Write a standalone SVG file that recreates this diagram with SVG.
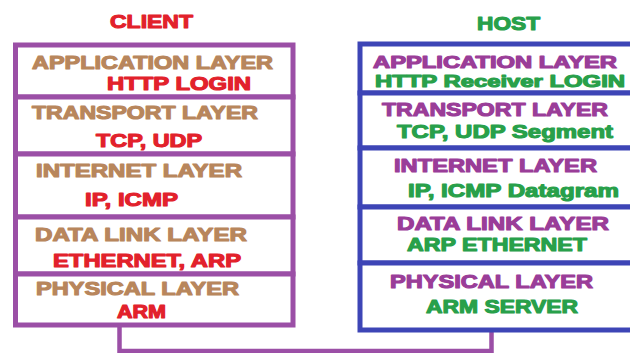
<svg xmlns="http://www.w3.org/2000/svg" width="630" height="353" viewBox="0 0 630 353">
<style>
text{font-family:"Liberation Sans",Arial,sans-serif;font-weight:bold;font-size:18px;stroke-width:1.1px;stroke-linejoin:round}
.title{font-size:19px}
.sm{font-size:16px}
.cbox{fill:#fff;stroke:#9b4fa6;stroke-width:5}
.hbox{fill:#fff;stroke:#3d45b6;stroke-width:5}
.cl{fill:#b8865c;stroke:#b8865c}
.cp{fill:#e2212b;stroke:#e2212b}
.hl{fill:#9a3d98;stroke:#9a3d98}
.hp{fill:#28a04a;stroke:#28a04a}
.conn{fill:none;stroke:#9b4fa6;stroke-width:4.5}
</style>
<rect width="630" height="353" fill="#fff"/>
<g id="connectors">
<polyline class="conn" points="119.5,325 119.5,351 491.5,351 491.5,330"/>
</g>
<g id="client-title"><text class="title cp" x="110" y="28" textLength="83" lengthAdjust="spacingAndGlyphs">CLIENT</text></g>
<g id="host-title"><text class="title hp" x="477" y="30" textLength="63" lengthAdjust="spacingAndGlyphs">HOST</text></g>

<g id="client-application">
<rect class="cbox" x="15.5" y="45" width="277.5" height="52"/>
<text class="cl" x="32" y="69" textLength="241" lengthAdjust="spacingAndGlyphs">APPLICATION LAYER</text>
<text class="cp" x="107" y="90" textLength="144" lengthAdjust="spacingAndGlyphs">HTTP  LOGIN</text>
</g>
<g id="client-transport">
<rect class="cbox" x="15.5" y="97" width="277.5" height="57"/>
<text class="cl" x="32" y="119" textLength="226" lengthAdjust="spacingAndGlyphs">TRANSPORT LAYER</text>
<text class="cp" x="96" y="147" textLength="106" lengthAdjust="spacingAndGlyphs">TCP, UDP</text>
</g>
<g id="client-internet">
<rect class="cbox" x="15.5" y="154" width="277.5" height="63"/>
<text class="cl" x="36" y="177" textLength="206" lengthAdjust="spacingAndGlyphs">INTERNET LAYER</text>
<text class="cp" x="85" y="206" textLength="93" lengthAdjust="spacingAndGlyphs">IP, ICMP</text>
</g>
<g id="client-datalink">
<rect class="cbox" x="15.5" y="217" width="277.5" height="57"/>
<text class="cl" x="35" y="241" textLength="212" lengthAdjust="spacingAndGlyphs">DATA LINK LAYER</text>
<text class="cp" x="53" y="267" textLength="188" lengthAdjust="spacingAndGlyphs">ETHERNET, ARP</text>
</g>
<g id="client-physical">
<rect class="cbox" x="15.5" y="274" width="277.5" height="51"/>
<text class="cl" x="36" y="295" textLength="203" lengthAdjust="spacingAndGlyphs">PHYSICAL LAYER</text>
<text class="cp" x="117" y="318" textLength="49" lengthAdjust="spacingAndGlyphs">ARM</text>
</g>

<g id="host-application">
<rect class="hbox" x="360" y="44" width="290" height="49"/>
<text class="hl sm" x="373" y="68" textLength="244" lengthAdjust="spacingAndGlyphs">APPLICATION LAYER</text>
<text class="hp sm" x="375" y="86.5" textLength="250" lengthAdjust="spacingAndGlyphs">HTTP Receiver LOGIN</text>
</g>
<g id="host-transport">
<rect class="hbox" x="360" y="93" width="290" height="55"/>
<text class="hl" x="382" y="116" textLength="226" lengthAdjust="spacingAndGlyphs">TRANSPORT LAYER</text>
<text class="hp" x="397" y="138" textLength="216" lengthAdjust="spacingAndGlyphs">TCP, UDP Segment</text>
</g>
<g id="host-internet">
<rect class="hbox" x="360" y="148" width="290" height="59"/>
<text class="hl" x="394" y="172" textLength="203" lengthAdjust="spacingAndGlyphs">INTERNET LAYER</text>
<text class="hp" x="408" y="197" textLength="211" lengthAdjust="spacingAndGlyphs">IP, ICMP Datagram</text>
</g>
<g id="host-datalink">
<rect class="hbox" x="360" y="207" width="290" height="56"/>
<text class="hl" x="397" y="230" textLength="212" lengthAdjust="spacingAndGlyphs">DATA LINK LAYER</text>
<text class="hp" x="407" y="251" textLength="180" lengthAdjust="spacingAndGlyphs">ARP ETHERNET</text>
</g>
<g id="host-physical">
<rect class="hbox" x="360" y="263" width="290" height="67"/>
<text class="hl" x="390" y="288" textLength="203" lengthAdjust="spacingAndGlyphs">PHYSICAL LAYER</text>
<text class="hp" x="426" y="313" textLength="152" lengthAdjust="spacingAndGlyphs">ARM SERVER</text>
</g>
</svg>
